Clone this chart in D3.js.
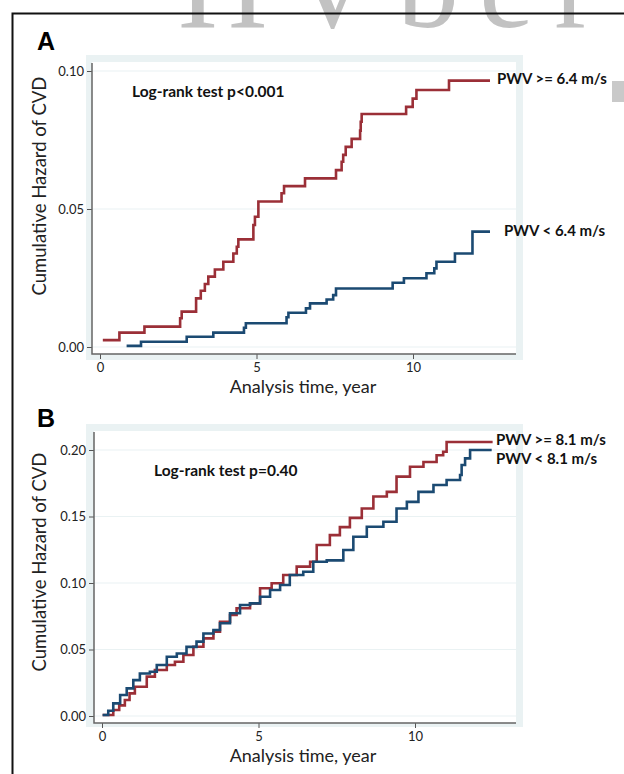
<!DOCTYPE html>
<html>
<head>
<meta charset="utf-8">
<script src="https://cdn.jsdelivr.net/npm/d3@7/dist/d3.min.js"></script>
<style>
  body { margin: 0; background: #fff; }
  svg { display: block; }
</style>
</head>
<body>
<script>
// ---- data ----
// Panel A: PWV cut at 6.4 m/s
const timeA_high = [0.09, 0.62, 1.42, 2.56, 2.61, 3.07, 3.22, 3.35, 3.46, 3.67, 3.94, 4.26, 4.37, 4.42, 4.90, 4.95, 5.06, 5.80, 5.88, 6.55, 7.54, 7.72, 7.77, 7.85, 8.04, 8.31, 8.33, 8.36, 9.78, 9.99, 10.11, 11.15, 12.46];
const hazA_high  = [0.0025, 0.0052, 0.0074, 0.0104, 0.0128, 0.0176, 0.0204, 0.0228, 0.0255, 0.0281, 0.0309, 0.0339, 0.0363, 0.0390, 0.0442, 0.0472, 0.0527, 0.0557, 0.0583, 0.0611, 0.0641, 0.0671, 0.0696, 0.0725, 0.0754, 0.0784, 0.0816, 0.0844, 0.0870, 0.0900, 0.0931, 0.0965, 0.0965];
const timeA_low  = [0.85, 1.31, 2.77, 3.62, 4.60, 4.66, 5.96, 6.02, 6.58, 6.71, 7.24, 7.45, 7.54, 9.35, 9.71, 10.43, 10.68, 10.75, 11.34, 11.90, 12.46];
const hazA_low   = [0.0004, 0.0019, 0.0037, 0.0052, 0.0070, 0.0086, 0.0108, 0.0124, 0.0140, 0.0158, 0.0172, 0.0188, 0.0212, 0.0233, 0.0249, 0.0267, 0.0285, 0.0309, 0.0339, 0.0418, 0.0418];

// Panel B: PWV cut at 8.1 m/s
const timeB_high = [0.02, 0.36, 0.55, 0.73, 0.88, 1.05, 1.43, 1.69, 2.07, 2.33, 2.60, 2.92, 3.24, 3.56, 3.77, 4.09, 4.30, 4.73, 5.05, 5.42, 5.79, 6.22, 6.65, 6.86, 7.28, 7.60, 7.92, 8.30, 8.67, 9.10, 9.41, 9.84, 10.27, 10.69, 10.90, 11.01, 12.48];
const hazB_high  = [0.0008, 0.0045, 0.008, 0.012, 0.017, 0.022, 0.0296, 0.0346, 0.0383, 0.0408, 0.0459, 0.0521, 0.0584, 0.0634, 0.0709, 0.0759, 0.081, 0.0847, 0.096, 0.0998, 0.106, 0.1123, 0.116, 0.1286, 0.136, 0.142, 0.149, 0.156, 0.165, 0.1685, 0.18, 0.1874, 0.191, 0.196, 0.1987, 0.206, 0.206];
const timeB_low  = [0.02, 0.20, 0.36, 0.58, 0.79, 1.00, 1.21, 1.53, 1.75, 2.07, 2.39, 2.70, 3.02, 3.24, 3.56, 3.77, 4.09, 4.41, 4.73, 5.05, 5.37, 5.69, 6.00, 6.43, 6.75, 7.18, 7.71, 8.03, 8.46, 8.99, 9.41, 9.74, 10.11, 10.59, 11.01, 11.44, 11.49, 11.60, 11.76, 12.45];
const hazB_low   = [0.0008, 0.004, 0.0095, 0.0158, 0.0208, 0.027, 0.032, 0.0333, 0.0383, 0.0446, 0.047, 0.052, 0.0559, 0.062, 0.0647, 0.0697, 0.0772, 0.0835, 0.0847, 0.0897, 0.0947, 0.0985, 0.106, 0.1085, 0.116, 0.117, 0.1248, 0.1348, 0.1423, 0.146, 0.156, 0.161, 0.1685, 0.1737, 0.1774, 0.1812, 0.1887, 0.1937, 0.2, 0.2];

const xTicks  = [0, 5, 10];
const yTicksA = [0, 0.05, 0.10];
const yTicksB = [0, 0.05, 0.10, 0.15, 0.20];

const RED = "#9b2f37", BLUE = "#1b4a72", FRAME = "#eaf2f3";
const FONT = "Lato, 'Open Sans', sans-serif";

const svg = d3.select("body").append("svg").attr("width", 624).attr("height", 774);

// watermark strip at the very top (clipped by the page edge, as in the scan) + page border
svg.append("text")
  .attr("x", 178).attr("y", 27)
  .attr("font-family", "'Liberation Serif', serif")
  .attr("font-size", 124)
  .attr("letter-spacing", 20)
  .attr("fill", "#c2c2c2")
  .text("HVber");
svg.append("rect").attr("x", 612).attr("y", 81).attr("width", 12).attr("height", 21).attr("fill", "#c9c9c9");
svg.append("path").attr("d", "M12.5,774V13.5H624").attr("fill", "none").attr("stroke", "#111").attr("stroke-width", 2);

function panel(cfg) {
  const g = svg.append("g");

  // stata-ish graph region + white plot region
  g.append("rect").attr("x", 86).attr("y", cfg.top).attr("width", 437).attr("height", cfg.height).attr("fill", FRAME);
  g.append("rect").attr("x", cfg.axisX).attr("y", cfg.top + 7)
    .attr("width", 516 - cfg.axisX).attr("height", cfg.axisY - cfg.top - 7).attr("fill", "#fff");

  const x = d3.scaleLinear().domain([0, 10]).range([cfg.x0, cfg.x0 + 313]);
  const y = d3.scaleLinear().domain([0, cfg.yMax]).range([cfg.y0, cfg.yTop]);

  // grid
  g.selectAll(".grid").data(cfg.yTicks).join("line")
    .attr("x1", cfg.axisX).attr("x2", 516)
    .attr("y1", d => y(d)).attr("y2", d => y(d))
    .attr("stroke", FRAME).attr("stroke-width", 1.2);

  // axes (ticks + labels from d3, lines drawn by hand)
  const ya = g.append("g").attr("transform", `translate(${cfg.axisX},0)`)
    .call(d3.axisLeft(y).tickValues(cfg.yTicks).tickSize(5).tickPadding(3).tickFormat(d3.format(".2f")));
  const xa = g.append("g").attr("transform", `translate(0,${cfg.axisY})`)
    .call(d3.axisBottom(x).tickValues(xTicks).tickSize(5).tickPadding(4));
  [ya, xa].forEach(a => {
    a.select(".domain").remove();
    a.selectAll("line").attr("stroke", "#555");
    a.selectAll("text").attr("font-family", FONT).attr("font-size", 13).attr("fill", "#222");
  });
  g.append("path")
    .attr("d", `M${cfg.axisX},${cfg.top + 8}V${cfg.axisY}H516`)
    .attr("fill", "none").attr("stroke", "#666").attr("stroke-width", 1.5);

  // curves
  const line = d3.line().x(d => x(d[0])).y(d => y(d[1])).curve(d3.curveStepAfter);
  cfg.series.forEach(s => {
    g.append("path").datum(d3.zip(s.t, s.h))
      .attr("d", line).attr("fill", "none")
      .attr("stroke", s.color).attr("stroke-width", 2.6);
    g.append("text").attr("x", s.lx).attr("y", s.ly)
      .attr("font-family", FONT).attr("font-weight", 700).attr("font-size", 15)
      .attr("fill", "#111").text(s.label);
  });

  g.append("text").attr("x", cfg.noteX).attr("y", cfg.noteY)
    .attr("font-family", FONT).attr("font-weight", 700).attr("font-size", 15.5)
    .attr("fill", "#111").text(cfg.note);

  g.append("text").attr("x", 37).attr("y", cfg.letterY)
    .attr("font-family", "'Liberation Sans', Arial, sans-serif").attr("font-weight", 700)
    .attr("font-size", 25).attr("fill", "#000").text(cfg.letter);

  g.append("text").attr("x", 303).attr("y", cfg.axisY + 39)
    .attr("text-anchor", "middle").attr("font-family", FONT).attr("font-size", 18)
    .attr("fill", "#222").text("Analysis time, year");

  g.append("text")
    .attr("transform", `translate(46,${cfg.yTitleY}) rotate(-90)`)
    .attr("text-anchor", "middle").attr("font-family", FONT).attr("font-size", 18.5)
    .attr("fill", "#222").text("Cumulative Hazard of CVD");
}

panel({
  letter: "A", letterY: 50,
  top: 55, height: 305, axisX: 92, axisY: 354,
  x0: 100, y0: 347, yTop: 71, yMax: 0.10, yTicks: yTicksA,
  yTitleY: 186,
  note: "Log-rank test p<0.001", noteX: 132, noteY: 97,
  series: [
    { t: timeA_high, h: hazA_high, color: RED, label: "PWV >= 6.4 m/s", lx: 497, ly: 84 },
    { t: timeA_low, h: hazA_low, color: BLUE, label: "PWV < 6.4 m/s", lx: 504, ly: 236 }
  ]
});

panel({
  letter: "B", letterY: 427,
  top: 424, height: 303, axisX: 94, axisY: 723,
  x0: 102, y0: 716, yTop: 450, yMax: 0.20, yTicks: yTicksB,
  yTitleY: 562,
  note: "Log-rank test p=0.40", noteX: 154, noteY: 476,
  series: [
    { t: timeB_high, h: hazB_high, color: RED, label: "PWV >= 8.1 m/s", lx: 496, ly: 445 },
    { t: timeB_low, h: hazB_low, color: BLUE, label: "PWV < 8.1 m/s", lx: 496, ly: 464 }
  ]
});
</script>
</body>
</html>
